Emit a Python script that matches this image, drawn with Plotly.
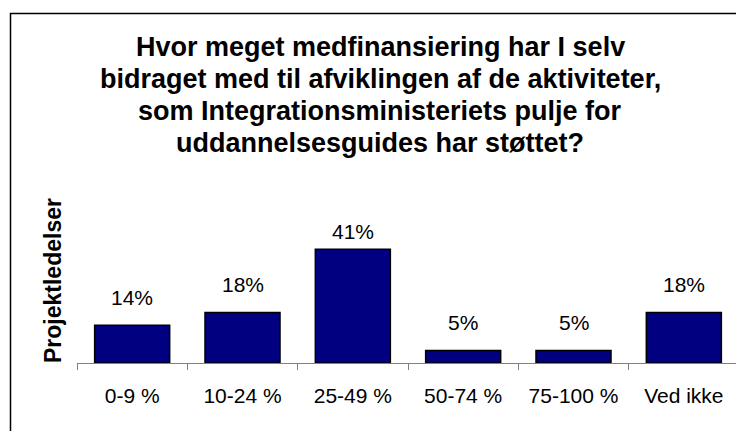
import plotly.graph_objects as go

categories = ["0-9 %", "10-24 %", "25-49 %", "50-74 %", "75-100 %", "Ved ikke"]
values = [13.6, 18.2, 40.9, 4.5, 4.5, 18.2]
labels = ["14%", "18%", "41%", "5%", "5%", "18%"]
title_lines = [
    "Hvor meget medfinansiering har I selv",
    "bidraget med til afviklingen af de aktiviteter,",
    "som Integrationsministeriets pulje for",
    "uddannelsesguides har støttet?",
]
y_title = "Projektledelser"

W, H = 744, 431
OFF = 8  # default page body margin
FONT = "Liberation Sans, Arial, sans-serif"
YMAX = 50
BASE_PX, TOP_PX = 363, 224
PX_PER_UNIT = (BASE_PX - TOP_PX) / YMAX
LABEL_SHIFT = 14
LABEL_BOX = 27


def px(x):
    return (x - OFF) / W


def py(y):
    return 1 - (y - OFF) / H


fig = go.Figure()
fig.add_trace(go.Bar(
    x=categories, y=values,
    marker=dict(color="#000080", line=dict(color="#000000", width=1.5)),
    hoverinfo="skip",
))

for c, v, t in zip(categories, values, labels):
    # data labels stay inside the plot area, as in the original chart
    if v + (LABEL_SHIFT + LABEL_BOX) / PX_PER_UNIT > YMAX:
        fig.add_annotation(x=c, y=YMAX, xref="x", yref="y", text=t, showarrow=False,
                           yanchor="top", yshift=6,
                           font=dict(family=FONT, size=21, color="#000000"))
    else:
        fig.add_annotation(x=c, y=v, xref="x", yref="y", text=t, showarrow=False,
                           yanchor="bottom", yshift=LABEL_SHIFT,
                           font=dict(family=FONT, size=21, color="#000000"))

fig.add_annotation(x=px(53), y=py(281), xref="paper", yref="paper",
                   text="<b>" + y_title + "</b>", textangle=-90, showarrow=False,
                   xanchor="center", yanchor="middle",
                   font=dict(family=FONT, size=23, color="#000000"))

for i, line in enumerate(title_lines):
    fig.add_annotation(x=px(380), y=py(47 + 32 * i), xref="paper", yref="paper",
                       text="<b>" + line + "</b>", showarrow=False,
                       xanchor="center", yanchor="middle",
                       font=dict(family=FONT, size=27, color="#000000"))

fig.update_layout(
    width=W, height=H,
    margin=dict(l=0, r=0, t=0, b=0),
    paper_bgcolor="white", plot_bgcolor="white",
    showlegend=False,
    bargap=0.32,
    xaxis=dict(domain=[px(77), px(739)], showline=True, linecolor="#808080", linewidth=1,
               ticks="outside", tickson="boundaries", ticklen=6, tickcolor="#808080",
               tickfont=dict(family=FONT, size=21, color="#000000"),
               ticklabelstandoff=14, showgrid=False, fixedrange=True),
    yaxis=dict(domain=[py(BASE_PX), py(TOP_PX)], range=[0, YMAX], visible=False,
               showgrid=False, zeroline=False, fixedrange=True),
    shapes=[dict(type="rect", xref="paper", yref="paper",
                 x0=px(10.5), x1=px(770), y0=-0.1, y1=py(13.5),
                 line=dict(color="#000000", width=1.5), fillcolor="rgba(0,0,0,0)")],
)

fig.write_html("out.html")
